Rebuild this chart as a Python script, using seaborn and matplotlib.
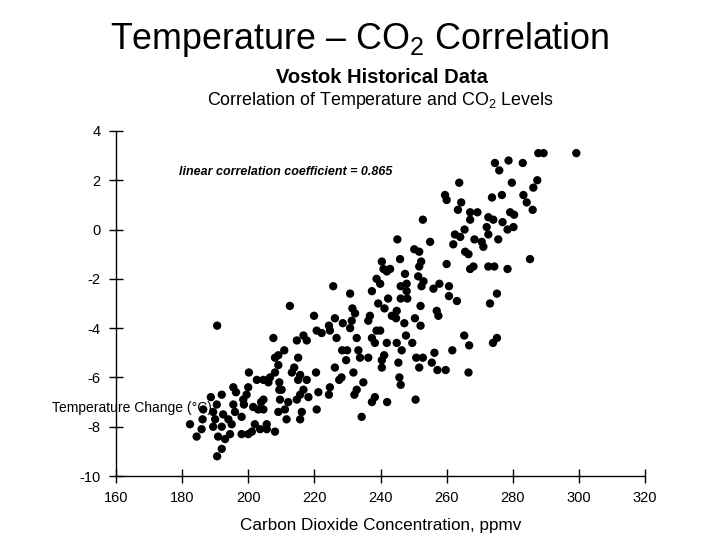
import numpy as np
import pandas as pd
import matplotlib
matplotlib.use("Agg")
import matplotlib.pyplot as plt
import seaborn as sns

# Vostok ice core: CO2 (ppmv) vs temperature change
co2 = [
    # lower-left cluster
    190.6, 200.2, 195.5, 200.0, 192.0, 196.3, 188.7, 198.5, 190.5, 195.5,
    198.7, 186.4, 189.4, 192.4, 196.0, 198.0, 194.0, 190.0, 186.2, 182.4,
    195.0, 192.0, 185.9, 189.4, 184.4, 194.5, 198.0, 200.0, 190.9, 193.0,
    192.0, 190.6,
    # 200-220
    212.6, 219.9, 220.7, 207.6, 214.7, 216.7, 217.7, 210.9, 209.1, 208.1,
    215.1, 209.1, 213.9, 213.2, 208.1, 215.7, 220.5, 206.6, 204.6, 202.6,
    215.1, 217.7, 206.1, 209.4, 209.4, 210.1, 216.7, 215.7, 221.2, 199.5,
    214.7, 218.2, 204.6, 203.9, 209.6, 212.1, 201.5, 203.0, 204.6, 209.1,
    211.1, 216.2, 220.7, 211.6, 215.7, 202.0, 205.6, 203.6, 205.6, 201.1,
    208.1,
    # 220-240
    240.4, 238.8, 239.9, 225.7, 230.8, 237.4, 239.3, 231.5, 241.2, 232.3,
    226.2, 236.8, 228.6, 231.3, 236.3, 224.4, 230.8, 222.2, 224.7, 238.8,
    239.9, 232.8, 237.4, 226.7, 238.3, 228.4, 229.9, 233.3, 233.8, 236.3,
    229.6, 240.4, 240.4, 226.2, 231.8, 228.2, 227.5, 234.8, 224.7, 224.4,
    232.8, 232.1, 238.3, 237.4, 234.3,
    # 240-260
    259.5, 260.0, 252.8, 245.1, 255.0, 250.2, 251.7, 245.9, 252.3, 240.9,
    242.9, 251.7, 241.9, 247.4, 260.0, 251.4, 253.0, 247.9, 246.1, 257.8,
    252.4, 256.0, 247.9, 242.3, 246.1, 248.1, 252.1, 244.9, 257.0, 243.4,
    257.5, 244.7, 250.4, 247.2, 252.1, 247.7, 241.9, 244.9, 249.6, 246.4,
    241.1, 250.8, 252.8, 256.3, 245.4, 255.5, 251.7, 257.2, 259.7, 245.7,
    246.1, 242.0, 250.6,
    # 260-277
    274.6, 275.9, 263.8, 276.7, 273.7, 264.4, 263.4, 267.1, 269.3, 267.1,
    272.6, 274.1, 276.9, 272.1, 265.4, 262.5, 264.1, 272.6, 268.4, 270.6,
    275.6, 262.0, 271.1, 265.6, 266.6, 267.1, 268.1, 272.6, 274.4, 260.7,
    260.7, 263.1, 275.2, 273.1, 265.3, 266.8, 275.2, 274.0, 261.7, 266.6,
    # upper right
    287.7, 289.3, 278.7, 283.0, 287.4, 279.7, 286.2, 283.2, 284.2, 286.0,
    279.2, 280.4, 278.4, 280.2, 285.2, 278.4, 299.2,
]

temp = [
    -3.9, -5.8, -6.4, -6.4, -6.7, -6.6, -6.8, -6.9, -7.1, -7.1,
    -7.1, -7.3, -7.4, -7.5, -7.4, -7.6, -7.7, -7.7, -7.7, -7.9,
    -7.9, -8.0, -8.1, -8.0, -8.4, -8.3, -8.3, -8.3, -8.4, -8.5,
    -8.9, -9.2,
    -3.1, -3.5, -4.1, -4.4, -4.5, -4.3, -4.5, -4.9, -5.1, -5.2,
    -5.2, -5.5, -5.6, -5.8, -5.8, -5.9, -5.8, -6.0, -6.1, -6.1,
    -6.1, -6.1, -6.2, -6.2, -6.5, -6.5, -6.5, -6.7, -6.6, -6.7,
    -6.9, -6.8, -6.9, -7.0, -6.9, -7.0, -7.2, -7.3, -7.3, -7.4,
    -7.3, -7.4, -7.3, -7.7, -7.7, -7.9, -7.9, -8.1, -8.1, -8.2,
    -8.2,
    -1.3, -2.0, -2.2, -2.3, -2.6, -2.5, -3.0, -3.2, -3.2, -3.4,
    -3.6, -3.5, -3.8, -3.7, -3.7, -3.9, -4.0, -4.2, -4.1, -4.1,
    -4.1, -4.4, -4.4, -4.4, -4.6, -4.9, -4.9, -4.9, -5.2, -5.2,
    -5.3, -5.3, -5.6, -5.6, -5.8, -6.0, -6.1, -6.2, -6.4, -6.7,
    -6.5, -6.7, -6.8, -7.0, -7.6,
    1.4, 1.2, 0.4, -0.4, -0.5, -0.8, -0.9, -1.2, -1.3, -1.6,
    -1.6, -1.5, -1.7, -1.8, -1.4, -1.9, -2.1, -2.2, -2.3, -2.2,
    -2.3, -2.4, -2.5, -2.8, -2.8, -2.8, -3.1, -3.3, -3.3, -3.5,
    -3.5, -3.6, -3.6, -3.8, -3.9, -4.3, -4.6, -4.6, -4.6, -4.9,
    -5.1, -5.2, -5.2, -5.0, -5.4, -5.4, -5.6, -5.7, -5.7, -6.0,
    -6.3, -7.0, -6.9,
    2.7, 2.4, 1.9, 1.4, 1.3, 1.1, 0.8, 0.7, 0.7, 0.4,
    0.5, 0.4, 0.3, 0.1, 0.0, -0.2, -0.3, -0.2, -0.4, -0.5,
    -0.4, -0.6, -0.7, -0.9, -1.0, -1.6, -1.5, -1.5, -1.5, -2.3,
    -2.7, -2.9, -2.6, -3.0, -4.3, -4.7, -4.4, -4.6, -4.9, -5.8,
    3.1, 3.1, 2.8, 2.7, 2.0, 1.9, 1.7, 1.4, 1.1, 0.8,
    0.7, 0.6, 0.0, 0.1, -1.2, -1.6, 3.1,
]

x_ticks = [160, 180, 200, 220, 240, 260, 280, 300, 320]
y_ticks = [-10, -8, -6, -4, -2, 0, 2, 4]

df = pd.DataFrame({"co2": co2, "temp": temp})

sns.set_style("white")
plt.rcParams["font.family"] = ["Liberation Sans", "DejaVu Sans"]
plt.rcParams["mathtext.fontset"] = "custom"
plt.rcParams["mathtext.rm"] = "Liberation Sans"
plt.rcParams["mathtext.default"] = "regular"
plt.rcParams["axes.unicode_minus"] = False
plt.rcParams["text.color"] = "black"
plt.rcParams["axes.labelcolor"] = "black"

fig = plt.figure(figsize=(7.2, 5.4), dpi=100)
ax = fig.add_axes([0.161, 0.1185, 0.735, 0.639])

sns.scatterplot(data=df, x="co2", y="temp", ax=ax, color="black",
                s=36, edgecolor="none", legend=False)

ax.set_xlim(160, 320)
ax.set_ylim(-10, 4)
ax.set_xticks(x_ticks)
ax.set_yticks(y_ticks)
ax.tick_params(bottom=True, left=True, direction="inout", length=10, width=1,
               colors="black", labelsize=10.5, pad=6)
for side in ["top", "right"]:
    ax.spines[side].set_visible(False)
for side in ["left", "bottom"]:
    ax.spines[side].set_color("black")
    ax.spines[side].set_linewidth(1)

ax.set_xlabel("Carbon Dioxide Concentration, ppmv", fontsize=12.3, labelpad=9)
ax.set_ylabel("")

ax.text(179, 2.35, "linear correlation coefficient = 0.865",
        fontsize=9, fontweight="bold", fontstyle="italic", va="center", ha="left")

# titles
fig.text(0.5, 0.926, "Temperature – CO$_2$ Correlation", ha="center", va="center",
         fontsize=25.8)
fig.text(0.530, 0.856, "Vostok Historical Data", ha="center", va="center",
         fontsize=14.5, fontweight="bold")
fig.text(0.528, 0.813, "Correlation of Temperature and CO$_2$ Levels",
         ha="center", va="center", fontsize=12.9)

# y label (drawn flat in the source)
fig.text(52 / 720, 1 - 408 / 540, "Temperature Change (°C)", ha="left",
         va="center", fontsize=10)

fig.savefig("out.png", dpi=100)
